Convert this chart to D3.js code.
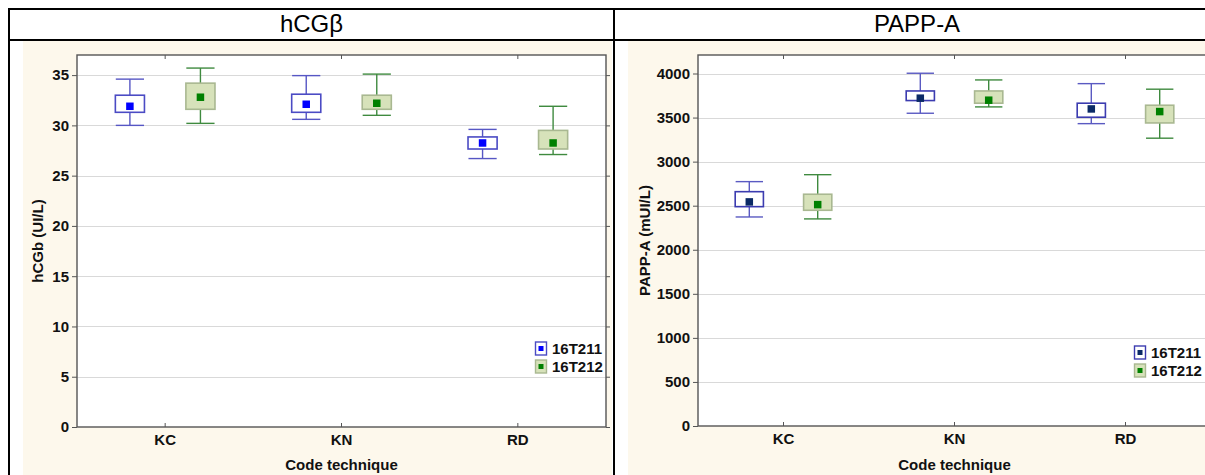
<!DOCTYPE html>
<html>
<head>
<meta charset="utf-8">
<script src="https://cdn.jsdelivr.net/npm/d3@7"></script>
<style>
  html, body { margin: 0; padding: 0; background: #ffffff; }
  svg { display: block; font-family: "Liberation Sans", Arial, sans-serif; }
</style>
</head>
<body>
<svg id="chart" width="1205" height="475"></svg>
<script>
// Categories and series
const categories = ["KC", "KN", "RD"];
const seriesNames = ["16T211", "16T212"];

// hCGβ (UI/L): mean, box (low/high) and whiskers (low/high) per category
const hcg211Mean   = [31.9, 32.1, 28.25];
const hcg211BoxLo  = [31.3, 31.3, 27.65];
const hcg211BoxHi  = [33.0, 33.1, 28.85];
const hcg211WhisLo = [30.0, 30.6, 26.7];
const hcg211WhisHi = [34.6, 34.95, 29.6];

const hcg212Mean   = [32.8, 32.2, 28.25];
const hcg212BoxLo  = [31.6, 31.6, 27.65];
const hcg212BoxHi  = [34.2, 33.0, 29.5];
const hcg212WhisLo = [30.2, 31.0, 27.1];
const hcg212WhisHi = [35.7, 35.1, 31.9];

// PAPP-A (mUI/L)
const papp211Mean   = [2543, 3720, 3598];
const papp211BoxLo  = [2489, 3693, 3504];
const papp211BoxHi  = [2659, 3802, 3663];
const papp211WhisLo = [2372, 3549, 3431];
const papp211WhisHi = [2773, 4003, 3885];

const papp212Mean   = [2512, 3697, 3568];
const papp212BoxLo  = [2448, 3663, 3439];
const papp212BoxHi  = [2630, 3802, 3640];
const papp212WhisLo = [2350, 3621, 3266];
const papp212WhisHi = [2852, 3927, 3822];

// Axis ticks
const hcgTicks  = [0, 5, 10, 15, 20, 25, 30, 35];
const pappTicks = [0, 500, 1000, 1500, 2000, 2500, 3000, 3500, 4000];

function rows(mean, lo, hi, wlo, whi) {
  return categories.map((c, i) => ({ cat: c, mean: mean[i], lo: lo[i], hi: hi[i], wlo: wlo[i], whi: whi[i] }));
}

const panels = [
  {
    title: "hCGβ", yLabel: "hCGb (UI/L)", xLabel: "Code technique",
    left: 77, right: 606, top: 55, bottom: 427, yMax: 37, ticks: hcgTicks,
    cell: { x0: 9, x1: 614, bgX0: 23, bgX1: 612 },
    yLabelX: 38, legendX: 535, legendY: 348,
    series: [
      { name: seriesNames[0], data: rows(hcg211Mean, hcg211BoxLo, hcg211BoxHi, hcg211WhisLo, hcg211WhisHi),
        fill: "#ffffff", stroke: "#4b4bc4", whisker: "#5656c4", marker: "#0000ff" },
      { name: seriesNames[1], data: rows(hcg212Mean, hcg212BoxLo, hcg212BoxHi, hcg212WhisLo, hcg212WhisHi),
        fill: "#d7e2ba", stroke: "#a9b891", whisker: "#3f8a3f", marker: "#008000" }
    ]
  },
  {
    title: "PAPP-A", yLabel: "PAPP-A (mUI/L)", xLabel: "Code technique",
    left: 698, right: 1211, top: 55, bottom: 426, yMax: 4210, ticks: pappTicks,
    cell: { x0: 614, x1: 1220, bgX0: 628, bgX1: 1205 },
    yLabelX: 645, legendX: 1134, legendY: 352,
    series: [
      { name: seriesNames[0], data: rows(papp211Mean, papp211BoxLo, papp211BoxHi, papp211WhisLo, papp211WhisHi),
        fill: "#ffffff", stroke: "#3c3cb0", whisker: "#5a5ac2", marker: "#0b2a66" },
      { name: seriesNames[1], data: rows(papp212Mean, papp212BoxLo, papp212BoxHi, papp212WhisLo, papp212WhisHi),
        fill: "#d7e2ba", stroke: "#a9b891", whisker: "#3f8a3f", marker: "#008000" }
    ]
  }
];

const svg = d3.select("#chart");
const labelFont = "'Liberation Sans', Arial, sans-serif";

// Table cell backgrounds
panels.forEach(p => {
  svg.append("rect")
    .attr("x", p.cell.bgX0).attr("y", 41)
    .attr("width", p.cell.bgX1 - p.cell.bgX0).attr("height", 475 - 41)
    .attr("fill", "#fdf8ec");
});

// Table borders
const border = svg.append("g").attr("stroke", "#000").attr("stroke-width", 2).attr("fill", "none");
border.append("line").attr("x1", 9).attr("x2", 1205).attr("y1", 9).attr("y2", 9);
border.append("line").attr("x1", 9).attr("x2", 1205).attr("y1", 40).attr("y2", 40);
border.append("line").attr("x1", 9).attr("x2", 9).attr("y1", 8).attr("y2", 475);
border.append("line").attr("x1", 614).attr("x2", 614).attr("y1", 8).attr("y2", 475);

panels.forEach(p => {
  // Header title
  svg.append("text")
    .attr("x", (p.cell.x0 + p.cell.x1) / 2).attr("y", 32)
    .attr("text-anchor", "middle")
    .attr("font-size", 24).attr("fill", "#000")
    .text(p.title);

  const x = d3.scaleBand().domain(categories).range([p.left, p.right]).padding(0);
  const xs = d3.scaleBand().domain(seriesNames)
    .range([-x.bandwidth() * 0.4, x.bandwidth() * 0.4]).padding(0);
  const y = d3.scaleLinear().domain([0, p.yMax]).range([p.bottom, p.top]);

  const g = svg.append("g");

  // Plot area
  g.append("rect")
    .attr("x", p.left).attr("y", p.top)
    .attr("width", p.right - p.left).attr("height", p.bottom - p.top)
    .attr("fill", "#ffffff");

  // Horizontal grid
  g.append("g").selectAll("line").data(p.ticks.filter(t => t > 0)).join("line")
    .attr("x1", p.left).attr("x2", p.right)
    .attr("y1", d => Math.round(y(d)) + 0.5).attr("y2", d => Math.round(y(d)) + 0.5)
    .attr("stroke", "#d9d9d9").attr("stroke-width", 1);

  // Box-and-whisker marks
  const boxW = x.bandwidth() * 0.165;
  const capW = x.bandwidth() * 0.08;
  p.series.forEach(s => {
    const sg = g.append("g");
    const cx = d => x(d.cat) + x.bandwidth() / 2 + xs(s.name) + xs.bandwidth() / 2;
    // whiskers
    sg.selectAll(".wu").data(s.data).join("line")
      .attr("x1", cx).attr("x2", cx)
      .attr("y1", d => y(d.hi)).attr("y2", d => y(d.whi))
      .attr("stroke", s.whisker).attr("stroke-width", 1.4);
    sg.selectAll(".wl").data(s.data).join("line")
      .attr("x1", cx).attr("x2", cx)
      .attr("y1", d => y(d.lo)).attr("y2", d => y(d.wlo))
      .attr("stroke", s.whisker).attr("stroke-width", 1.4);
    sg.selectAll(".cu").data(s.data).join("line")
      .attr("x1", d => cx(d) - capW).attr("x2", d => cx(d) + capW)
      .attr("y1", d => y(d.whi)).attr("y2", d => y(d.whi))
      .attr("stroke", s.whisker).attr("stroke-width", 1.4);
    sg.selectAll(".cl").data(s.data).join("line")
      .attr("x1", d => cx(d) - capW).attr("x2", d => cx(d) + capW)
      .attr("y1", d => y(d.wlo)).attr("y2", d => y(d.wlo))
      .attr("stroke", s.whisker).attr("stroke-width", 1.4);
    // boxes
    sg.selectAll("rect.box").data(s.data).join("rect")
      .attr("class", "box")
      .attr("x", d => cx(d) - boxW / 2).attr("width", boxW)
      .attr("y", d => y(d.hi)).attr("height", d => y(d.lo) - y(d.hi))
      .attr("fill", s.fill).attr("stroke", s.stroke)
      .attr("stroke-width", 1.6);
    // mean markers
    sg.selectAll("rect.mean").data(s.data).join("rect")
      .attr("class", "mean")
      .attr("x", d => cx(d) - 3.75).attr("width", 7.5)
      .attr("y", d => y(d.mean) - 3.75).attr("height", 7.5)
      .attr("fill", s.marker);
  });

  // Frame
  g.append("rect")
    .attr("x", p.left).attr("y", p.top)
    .attr("width", p.right - p.left).attr("height", p.bottom - p.top)
    .attr("fill", "none").attr("stroke", "#555").attr("stroke-width", 1.4);

  // Y axis (left, labelled) and mirrored ticks on the right
  const yAxis = g.append("g").attr("transform", `translate(${p.left},0)`)
    .call(d3.axisLeft(y).tickValues(p.ticks).tickFormat(d3.format("d")).tickSize(5).tickPadding(3));
  yAxis.select(".domain").remove();
  yAxis.selectAll("line").attr("stroke", "#555");
  yAxis.selectAll("text").attr("font-size", 15).attr("font-weight", "bold").attr("fill", "#111")
    .attr("font-family", labelFont);

  const yAxisR = g.append("g").attr("transform", `translate(${p.right},0)`)
    .call(d3.axisRight(y).tickValues(p.ticks).tickSize(4).tickFormat(""));
  yAxisR.select(".domain").remove();
  yAxisR.selectAll("line").attr("stroke", "#555");

  // X axis with inward ticks, top and bottom
  const xAxis = g.append("g").attr("transform", `translate(0,${p.bottom})`)
    .call(d3.axisBottom(x).tickSizeInner(-4).tickSizeOuter(0).tickPadding(7));
  xAxis.select(".domain").remove();
  xAxis.selectAll("line").attr("stroke", "#555");
  xAxis.selectAll("text").attr("font-size", 15).attr("font-weight", "bold").attr("fill", "#111")
    .attr("font-family", labelFont);

  const xAxisT = g.append("g").attr("transform", `translate(0,${p.top})`)
    .call(d3.axisTop(x).tickSizeInner(-4).tickSizeOuter(0).tickFormat(""));
  xAxisT.select(".domain").remove();
  xAxisT.selectAll("line").attr("stroke", "#555");

  // Axis titles
  svg.append("text")
    .attr("x", (p.left + p.right) / 2).attr("y", 470)
    .attr("text-anchor", "middle").attr("font-size", 15).attr("font-weight", "bold").attr("fill", "#111")
    .text(p.xLabel);
  svg.append("text")
    .attr("transform", `translate(${p.yLabelX + 5},${(p.top + p.bottom) / 2}) rotate(-90)`)
    .attr("text-anchor", "middle").attr("font-size", 15).attr("font-weight", "bold").attr("fill", "#111")
    .text(p.yLabel);

  // Legend
  const lg = svg.append("g").attr("transform", `translate(${p.legendX},${p.legendY})`);
  p.series.forEach((s, i) => {
    const row = lg.append("g").attr("transform", `translate(0,${i * 18})`);
    row.append("rect").attr("x", 0.5).attr("y", -6).attr("width", 11).attr("height", 13)
      .attr("fill", s.fill).attr("stroke", s.stroke).attr("stroke-width", 1.4);
    row.append("rect").attr("x", 3.5).attr("y", -2).attr("width", 5).attr("height", 5).attr("fill", s.marker);
    row.append("text").attr("x", 17).attr("y", 5.5)
      .attr("font-size", 15).attr("font-weight", "bold").attr("fill", "#111")
      .text(s.name);
  });
});
</script>
</body>
</html>
